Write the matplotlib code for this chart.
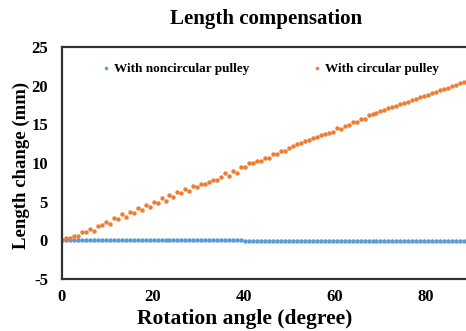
import matplotlib
matplotlib.use("Agg")
import matplotlib.pyplot as plt

# rotation angle (degree) of every sample
angle = [0.0, 0.875, 1.75, 2.625, 3.5, 4.375, 5.25, 6.125, 7.0, 7.875,
         8.75, 9.625, 10.5, 11.375, 12.25, 13.125, 14.0, 14.875, 15.75, 16.625,
         17.5, 18.375, 19.25, 20.125, 21.0, 21.875, 22.75, 23.625, 24.5, 25.375,
         26.25, 27.125, 28.0, 28.875, 29.75, 30.625, 31.5, 32.375, 33.25, 34.125,
         35.0, 35.875, 36.75, 37.625, 38.5, 39.375, 40.25, 41.125, 42.0, 42.875,
         43.75, 44.625, 45.5, 46.375, 47.25, 48.125, 49.0, 49.875, 50.75, 51.625,
         52.5, 53.375, 54.25, 55.125, 56.0, 56.875, 57.75, 58.625, 59.5, 60.375,
         61.25, 62.125, 63.0, 63.875, 64.75, 65.625, 66.5, 67.375, 68.25, 69.125,
         70.0, 70.875, 71.75, 72.625, 73.5, 74.375, 75.25, 76.125, 77.0, 77.875,
         78.75, 79.625, 80.5, 81.375, 82.25, 83.125, 84.0, 84.875, 85.75, 86.625,
         87.5, 88.375, 89.25]

# length change (mm) with the noncircular pulley
noncircular = [0.00, 0.02, 0.03, 0.03, 0.02, 0.04, 0.02, 0.00, 0.01, 0.00,
               0.00, 0.01, 0.00, 0.01, 0.00, 0.01, 0.02, 0.01, 0.00, 0.02,
               0.01, 0.02, 0.03, 0.02, 0.01, 0.03, 0.03, 0.02, 0.04, 0.05,
               0.09, 0.03, 0.00, -0.02, 0.00, 0.01, 0.00, 0.02, 0.03, 0.04,
               0.03, 0.05, 0.04, 0.02, 0.00, -0.01, -0.03, -0.04, -0.03, -0.05,
               -0.04, -0.06, -0.05, -0.06, -0.05, -0.07, -0.06, -0.08, -0.07, -0.06,
               -0.09, -0.08, -0.06, -0.05, -0.07, -0.09, -0.10, -0.08, -0.06, -0.08,
               -0.10, -0.11, -0.09, -0.10, -0.12, -0.10, -0.09, -0.11, -0.12, -0.10,
               -0.11, -0.13, -0.12, -0.10, -0.11, -0.12, -0.13, -0.11, -0.12, -0.14,
               -0.12, -0.13, -0.14, -0.13, -0.12, -0.14, -0.15, -0.13, -0.14, -0.15,
               -0.14, -0.15, -0.16]

# length change (mm) with the circular pulley
circular = [0.05, 0.28, 0.28, 0.62, 0.62, 1.06, 1.06, 1.45, 1.27, 1.79,
            1.92, 2.35, 2.13, 2.95, 2.74, 3.39, 3.08, 3.65, 3.52, 4.24,
            3.98, 4.59, 4.37, 4.94, 4.81, 5.41, 5.15, 5.91, 5.58, 6.19,
            6.10, 6.70, 6.44, 7.09, 6.88, 7.31, 7.31, 7.53, 7.74, 7.74,
            8.18, 8.69, 8.34, 9.03, 8.69, 9.42, 9.47, 9.94, 9.94, 10.32,
            10.32, 10.71, 10.71, 11.10, 11.20, 11.58, 11.49, 12.00, 12.14, 12.44,
            12.57, 12.83, 12.91, 13.22, 13.35, 13.65, 13.78, 13.87, 14.00, 14.51,
            14.46, 14.81, 14.85, 15.24, 15.33, 15.68, 15.72, 16.15, 16.33, 16.51,
            16.69, 16.87, 17.05, 17.23, 17.41, 17.59, 17.77, 17.95, 18.13, 18.31,
            18.49, 18.67, 18.85, 19.03, 19.21, 19.39, 19.57, 19.75, 19.93, 20.11,
            20.29, 20.47, 20.65]

x_ticks = [0, 20, 40, 60, 80]
y_ticks = [-5, 0, 5, 10, 15, 20, 25]

plt.rcParams["font.family"] = ["Liberation Serif", "DejaVu Serif"]
plt.rcParams["font.weight"] = "bold"
plt.rcParams["axes.unicode_minus"] = False

fig = plt.figure(figsize=(4.66, 3.31), dpi=100)
ax = fig.add_axes([62 / 466, 52 / 331, 404 / 466, 232 / 331])

ax.plot(angle, noncircular, "o", ms=3.2, color="#5B9BD5", mec="none",
        label="With noncircular pulley")
ax.plot(angle, circular, "o", ms=3.2, color="#ED7D31", mec="none",
        label="With circular pulley")

ax.set_xlim(0, 88.8)
ax.set_ylim(-5, 25)
ax.set_xticks(x_ticks)
ax.set_yticks(y_ticks)
ax.tick_params(axis="x", length=0, labelsize=12, pad=7)
ax.tick_params(axis="y", length=0, labelsize=12, pad=10)
for lab in ax.get_xticklabels() + ax.get_yticklabels():
    lab.set_fontweight("bold")

for side in ["left", "bottom", "top"]:
    ax.spines[side].set_color("#333333")
    ax.spines[side].set_linewidth(1.6)
ax.spines["right"].set_visible(False)

ax.set_xlabel("Rotation angle (degree)", fontsize=15.5, fontweight="bold")
ax.xaxis.set_label_coords((245 - 62) / 404, -0.13)
ax.set_ylabel("Length change (mm)", fontsize=13.5, fontweight="bold", va="center")
ax.yaxis.set_label_coords((21 - 62) / 404, (279 - 165) / 232)
fig.text(266 / 466, 1 - 19 / 331, "Length compensation", fontsize=15,
         fontweight="bold", ha="center", va="center")

ax.legend(loc="center left", bbox_to_anchor=(0.07, 0.905), ncol=2, frameon=False,
          markerscale=0.8, handlelength=0.6, handletextpad=0.3,
          columnspacing=4.8, prop={"weight": "bold", "size": 9.5})

fig.savefig("out.png", dpi=100)
